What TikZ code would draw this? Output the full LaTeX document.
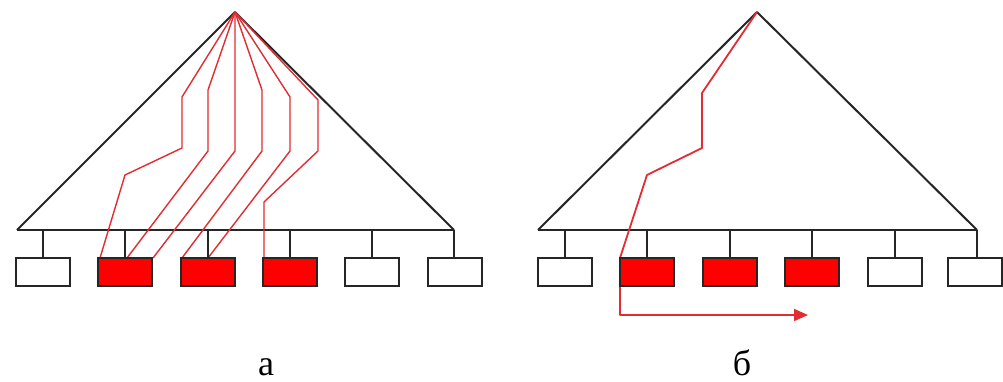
\documentclass[tikz,border=0pt]{standalone}
\usepackage{fontspec}
\setmainfont{Liberation Serif}
\usetikzlibrary{arrows.meta,calc}
\definecolor{wire}{RGB}{225,45,50}
\begin{document}
\begin{tikzpicture}[x=0.5pt,y=-0.5pt,
  blk/.style={draw=black!85, line width=1pt, line join=round},
  box/.style={draw=black!85, line width=1pt, minimum width=27pt, minimum height=14pt, inner sep=0pt},
  act/.style={box, fill=red},
  idle/.style={box, fill=white},
  rpath/.style={draw=wire, line width=0.7pt, line join=round},
  lbl/.style={font=\fontsize{18}{20}\selectfont, inner sep=0pt, anchor=base}]
\useasboundingbox (0,0) rectangle (1003,381);

% ---------- left diagram (a) ----------
\coordinate (A) at (235,12);
\coordinate (AL) at (17,230);
\coordinate (AR) at (454,230);
\draw[blk] (AL) -- (A) -- (AR);
\draw[blk] (AL) -- (AR);

\draw[rpath] (A) -- (182,97) -- (182,148) -- (125,175) -- (100,258);
\draw[rpath] (A) -- (208,90) -- (208,151) -- (127,258);
\draw[rpath] (A) -- (235,151) -- (153,258);
\draw[rpath] (A) -- (262,90) -- (262,151) -- (182,258);
\draw[rpath] (A) -- (290,97) -- (290,151) -- (208,258);
\draw[rpath] (A) -- (318,100) -- (318,151) -- (264,202) -- (264,258);

\node[idle] (a1) at (43,272) {};
\node[act]  (a2) at (125,272) {};
\node[act]  (a3) at (208,272) {};
\node[act]  (a4) at (290,272) {};
\node[idle] (a5) at (372,272) {};
\node[idle] (a6) at (455,272) {};
\foreach \b in {a1,a2,a3,a4,a5}
  \draw[blk] (\b.north) -- (\b.north |- AL);
\draw[blk] (AR) -- (AR |- a6.north);

\node[lbl] (la) at (266,375) {а};

% ---------- right diagram (б) ----------
\coordinate (B) at (757,12);
\coordinate (BL) at (538,230);
\coordinate (BR) at (977,230);
\draw[blk] (BL) -- (B) -- (BR);
\draw[blk] (BL) -- (BR);

\coordinate (b2nw) at (620,258);
\coordinate (tgt) at (808,315);
\draw[rpath, line width=0.9pt, -{Triangle[length=7pt,width=6pt]}]
  (B) -- (702,93) -- (702,148) -- (647,175) -- (b2nw) -- (b2nw |- tgt) -- (tgt);

\node[idle] (b1) at (565,272) {};
\node[act]  (b2) at (647,272) {};
\node[act]  (b3) at (730,272) {};
\node[act]  (b4) at (812,272) {};
\node[idle] (b5) at (895,272) {};
\node[idle] (b6) at (975,272) {};
\foreach \b in {b1,b2,b3,b4,b5}
  \draw[blk] (\b.north) -- (\b.north |- BL);
\draw[blk] (BR) -- (BR |- b6.north);

\node[lbl] (lb) at (742,375) {б};
\end{tikzpicture}
\end{document}
